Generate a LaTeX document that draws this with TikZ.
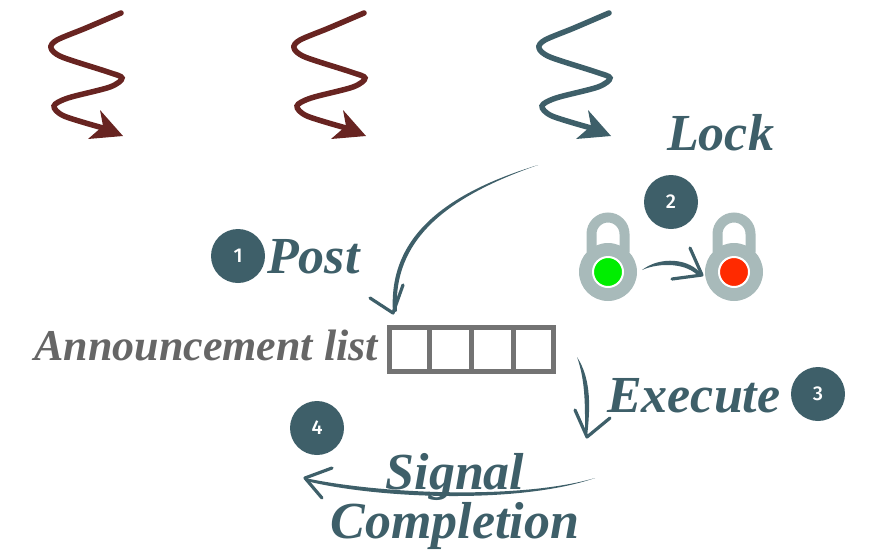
\documentclass[tikz,border=0pt]{standalone}
\usepackage{fontspec}
\setmainfont{Liberation Serif}
\newfontfamily\numfont{Fira Sans Medium}
\usetikzlibrary{arrows.meta,calc}

\definecolor{inkteal}{HTML}{3E5F69}
\definecolor{threadred}{HTML}{682421}
\definecolor{listgray}{HTML}{737373}
\definecolor{labelgray}{HTML}{666666}
\definecolor{lockgray}{HTML}{A8BABA}
\definecolor{freegreen}{HTML}{00EE00}
\definecolor{heldred}{HTML}{FF2A00}

\tikzset{
  badge/.style={circle, fill=inkteal, minimum size=54pt, inner sep=0pt,
    text=white, font=\numfont\fontsize{20}{20}\selectfont},
  steplabel/.style={text=inkteal, inner sep=0pt,
    font=\bfseries\itshape\fontsize{52}{43}\selectfont},
  brushtip/.style={draw=inkteal, line width=3.2pt, line cap=round, line join=round},
  pics/squiggle/.style={code={
    \draw[#1, line width=5.5pt, line cap=round]
      plot[smooth, tension=0.5] coordinates {(121,13) (86,28) (57,40) (51,48)
        (62,57) (108,72) (122,78) (110,87) (68,98) (54,106) (64,116) (103,128)};
    \fill[#1] (100,110) -- (123,136) -- (88,139) -- (103,126) -- cycle;
  }},
  pics/padlock/.style={code={
    \draw[lockgray, line width=10pt] (-16.5,-20) -- (-16.5,-38)
      arc[start angle=180, end angle=360, radius=16.5] -- (16.5,-20);
    \node[circle, fill=lockgray, minimum size=58pt, inner sep=0pt] (-body) at (0,0) {};
    \fill[#1, draw=white, line width=2pt] (0,0) circle[radius=15];
  }},
}

\begin{document}
\begin{tikzpicture}[x=1pt, y=-1pt]
\useasboundingbox (0,0) rectangle (891,549);

% three threads
\pic (t1) at (0,0) {squiggle=threadred};
\pic (t2) at (243,0) {squiggle=threadred};
\pic (t3) at (488,0) {squiggle=inkteal};

% the announcement list
\node[draw=listgray, line width=5pt, minimum width=164pt, minimum height=44pt,
      inner sep=0pt] (list) at (471.5,349.5) {};
\foreach \f in {0.25,0.5,0.75}
  \draw[listgray, line width=5pt]
    ($(list.north west)!\f!(list.north east)$) -- ($(list.south west)!\f!(list.south east)$);
\node[anchor=base east, inner sep=0pt, text=labelgray,
      font=\bfseries\itshape\fontsize{44}{48}\selectfont] (listlabel) at (378,360) {Announcement list};

% locks
\pic (l1) at (608,272) {padlock=freegreen};
\pic (l2) at (734,272) {padlock=heldred};

% badges
\node[badge] (b1) at (238,256) {1};
\node[badge] (b2) at (671,202) {2};
\node[badge] (b3) at (818,394) {3};
\node[badge] (b4) at (317,428) {4};

% step labels
\node[steplabel, anchor=base west] (post) at (267,273) {Post};
\node[steplabel, anchor=base west] (lock) at (667,150) {Lock};
\node[steplabel, anchor=base west] (exec) at (607,412) {Execute};
\node[steplabel, anchor=base, align=center] (signal) at (455,538) {Signal\\Completion};

% post: from the running thread to the list
\coordinate (postS) at (538,165);
\coordinate (postE) at (393,313);
\fill[inkteal] (postS) .. controls (440,195) and (388,240) .. (postE)
  -- (397,311) .. controls (393,242) and (443,198) .. (postS) -- cycle;
\draw[brushtip] (370,298) -- (postE) -- (403,285);

% lock: free to held
\coordinate (lockS) at (642,270);
\coordinate (lockE) at (702,275);
\fill[inkteal] (lockS) .. controls (660,256) and (690,258) .. (lockE)
  -- (699,277) .. controls (688,263) and (660,262) .. (lockS) -- cycle;
\draw[brushtip] (690,248) -- (lockE) -- (672,279);

% execute
\coordinate (execS) at (577,357);
\coordinate (execE) at (587,437);
\fill[inkteal] (execS) .. controls (592,380) and (590,410) .. (execE)
  -- (585,436) .. controls (585,410) and (586,382) .. (execS) -- cycle;
\draw[brushtip] (575,410) -- (execE) -- (610,418);

% signal completion
\coordinate (sigS) at (595,478);
\coordinate (sigE) at (305,478);
\fill[inkteal] (sigS) .. controls (520,500) and (380,494) .. (sigE)
  -- (306,481) .. controls (380,499) and (520,504) .. (sigS) -- cycle;
\draw[brushtip] (332,468) -- (sigE) -- (322,498);
\end{tikzpicture}
\end{document}
